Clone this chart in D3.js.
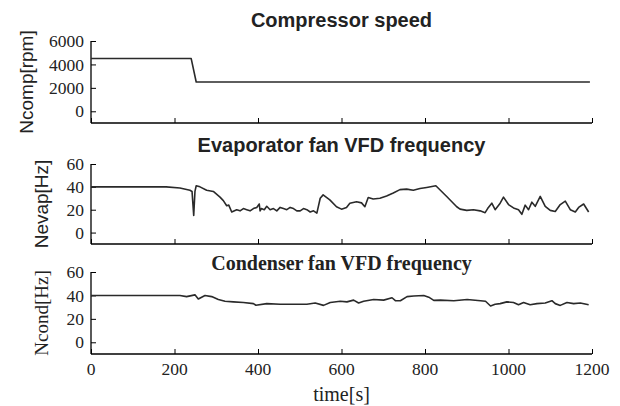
<!DOCTYPE html>
<html>
<head>
<meta charset="utf-8">
<script src="https://cdn.jsdelivr.net/npm/d3@7"></script>
<style>
  body { margin: 0; background: #fff; }
  svg { display: block; }
</style>
</head>
<body>
<div id="chart"></div>
<script>
// time ticks shared by all three panels
var timeTicks = [0, 200, 400, 600, 800, 1000, 1200];

// compressor speed [rpm]
var compTime  = [0, 240, 252, 1195];
var compSpeed = [4500, 4500, 2500, 2500];
var compTicks = [0, 2000, 4000, 6000];

// evaporator fan VFD frequency [Hz]
var evapTime = [0, 180, 213, 237, 242, 246, 249, 252, 261, 277, 293, 309, 317, 325, 330, 337,
    349, 357, 365, 373, 381, 389, 397, 403, 405, 408, 415, 421, 429, 437, 445, 453, 461, 469,
    477, 485, 493, 501, 509, 517, 525, 533, 541,
    549, 556, 572, 588, 600, 612, 620, 636, 648, 656, 664, 676, 692, 708, 724, 740,
    756, 772, 788, 804, 826, 852, 876, 884, 900, 916, 932, 944, 950, 960, 968, 980,
    988, 1000, 1012, 1024, 1032, 1040, 1048, 1056, 1064, 1076, 1088, 1100, 1112, 1124,
    1136, 1148, 1160, 1168, 1180, 1192];
var evapFreq = [40, 40, 39, 37, 36, 15, 36, 41, 40, 37, 36, 31, 28, 23.5, 24, 18,
    20, 19, 21, 20, 19, 21, 22, 25, 19, 21, 20, 23, 20, 21, 19, 22, 21, 20,
    22, 21, 19, 19, 21, 20, 18, 19, 17,
    30, 33, 28.6, 22.6, 20.5, 22, 25.7, 27, 26, 22.6, 30.7, 29.4, 30, 32, 34.6, 37.6,
    38, 37, 38.5, 39.5, 41, 31.6, 22.6, 20.5, 19.4, 20, 19, 17.4, 21, 25.7, 20, 25.7,
    31, 24.5, 21.6, 20, 16, 24, 20, 26.6, 23, 31.6, 23, 19.4, 18.5, 24.5,
    27.5, 20, 18, 22, 25, 18];

// condenser fan VFD frequency [Hz]
var condTime = [0, 213, 229, 249, 257, 273, 289, 305, 321, 341, 365, 389, 395, 421, 453, 485,
    517, 537, 557, 573, 597, 613, 629, 641, 653, 677, 701, 721, 729, 741, 757, 773,
    797, 809, 821, 837, 869, 901, 933, 945, 957, 968, 980, 996, 1012, 1024, 1036, 1052,
    1068, 1088, 1104, 1112, 1124, 1140, 1156, 1172, 1192];
var condFreq = [40, 40, 39, 40.5, 37, 40, 39, 36.5, 35, 34.5, 34, 33, 31.6, 33, 32.5, 32.5,
    32.5, 33.5, 31.5, 34, 35, 34.5, 36, 33.5, 35, 36.5, 36, 38, 35.5, 35.5, 39, 39.5,
    40, 38.5, 35.8, 36, 35.5, 36.5, 35.5, 35, 31, 32.5, 33, 34.5, 34, 32, 34, 32,
    33, 33.5, 35.5, 33, 31.5, 34, 33, 33.5, 32];
var hzTicks = [0, 20, 40, 60];

var width = 620, height = 406;
var left = 91, right = 592;

var svg = d3.select("#chart")
    .append("svg")
    .attr("width", width)
    .attr("height", height);

var x = d3.scaleLinear().domain([0, 1200]).range([left, right]);

var panels = [
    {title: "Compressor speed", serif: false, ylabel: "Ncomp[rpm]", labelX: 26,
     time: compTime, vals: compSpeed, ticks: compTicks, domain: [-1000, 6000],
     top: 41, bottom: 123, titleY: 27},
    {title: "Evaporator fan VFD frequency", serif: false, ylabel: "Nevap[Hz]", labelX: 41,
     time: evapTime, vals: evapFreq, ticks: hzTicks, domain: [-10, 60],
     top: 164, bottom: 244, titleY: 152},
    {title: "Condenser fan VFD frequency", serif: true, ylabel: "Ncond[Hz]", labelX: 41,
     time: condTime, vals: condFreq, ticks: hzTicks, domain: [-10, 60],
     top: 272, bottom: 354, titleY: 270}
];

var serif = "'Liberation Serif', 'Times New Roman', serif";
var sans = "'Liberation Sans', Arial, sans-serif";

panels.forEach(function (p, i) {
    var y = d3.scaleLinear().domain(p.domain).range([p.bottom, p.top]);
    var g = svg.append("g");

    // y axis, ticks inward
    var yAxis = g.append("g")
        .attr("transform", "translate(" + left + ",0)")
        .call(d3.axisRight(y).tickValues(p.ticks).tickSize(5).tickSizeOuter(0).tickFormat(""));
    yAxis.select(".domain").attr("d", "M0," + p.top + "V" + p.bottom).attr("stroke-width", 1.3);
    yAxis.selectAll("line").attr("stroke", "#000");

    g.selectAll(".ylab")
        .data(p.ticks)
        .enter()
        .append("text")
        .attr("x", left - 7)
        .attr("y", d => y(d))
        .attr("dy", "0.35em")
        .attr("text-anchor", "end")
        .style("font-family", serif)
        .style("font-size", "17.5px")
        .style("fill", "#222")
        .text(d => d);

    // x axis, ticks inward
    var xAxis = g.append("g")
        .attr("transform", "translate(0," + p.bottom + ")")
        .call(d3.axisTop(x).tickValues(timeTicks).tickSize(5).tickSizeOuter(0).tickFormat(""));
    xAxis.select(".domain").attr("d", "M" + left + ",0H" + right).attr("stroke-width", 1.3);
    xAxis.selectAll("line").attr("stroke", "#000");

    if (i === panels.length - 1) {
        g.selectAll(".xlab")
            .data(timeTicks)
            .enter()
            .append("text")
            .attr("x", d => x(d))
            .attr("y", p.bottom + 15)
            .attr("dy", "0.35em")
            .attr("text-anchor", "middle")
            .style("font-family", serif)
            .style("font-size", "17.5px")
            .style("fill", "#222")
            .text(d => d);
        g.append("text")
            .attr("x", (left + right) / 2)
            .attr("y", 401)
            .attr("text-anchor", "middle")
            .style("font-family", serif)
            .style("font-size", "20px")
            .style("fill", "#222")
            .text("time[s]");
    }

    // title
    g.append("text")
        .attr("x", (left + right) / 2)
        .attr("y", p.titleY)
        .attr("text-anchor", "middle")
        .style("font-family", p.serif ? serif : sans)
        .style("font-weight", "bold")
        .style("font-size", "20px")
        .style("fill", "#222")
        .text(p.title);

    // y label
    g.append("text")
        .attr("transform", "translate(" + p.labelX + "," + ((p.top + p.bottom) / 2) + ") rotate(-90)")
        .attr("text-anchor", "middle")
        .attr("dy", "0.35em")
        .style("font-family", p.serif ? serif : sans)
        .style("font-size", "19px")
        .style("fill", "#222")
        .text(p.ylabel);

    // series
    var pts = p.time.map((t, k) => [t, p.vals[k]]);
    g.append("path")
        .datum(pts)
        .attr("fill", "none")
        .attr("stroke", "#2a2a2a")
        .attr("stroke-width", 1.6)
        .attr("stroke-linejoin", "round")
        .attr("d", d3.line().x(d => x(d[0])).y(d => y(d[1])));
});
</script>
</body>
</html>
